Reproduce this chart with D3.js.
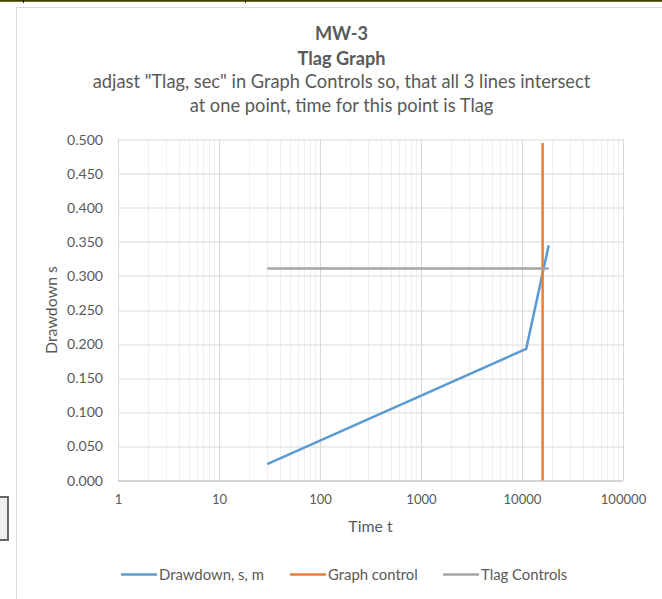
<!DOCTYPE html>
<html>
<head>
<meta charset="utf-8">
<script src="https://cdn.jsdelivr.net/npm/d3@7"></script>
<style>
  body { margin: 0; background: #fff; }
  text { font-family: Lato, "Open Sans", sans-serif; fill: #595959; }
</style>
</head>
<body>
<div id="chart"></div>
<script>
// series
var drawdownTime = [30, 11000, 18400];
var drawdownS = [0.024, 0.193, 0.345];
var controlTime = [16000, 16000];
var controlS = [0, 0.495];
var tlagTime = [30, 18400];
var tlagS = [0.311, 0.311];

var xTicks = [1, 10, 100, 1000, 10000, 100000];
var yTicks = [0, 0.05, 0.1, 0.15, 0.2, 0.25, 0.3, 0.35, 0.4, 0.45, 0.5];

var series = [
    {name: "Drawdown, s, m", x: drawdownTime, y: drawdownS, color: "#5B9BD5"},
    {name: "Graph control", x: controlTime, y: controlS, color: "#ED7D31"},
    {name: "Tlag Controls", x: tlagTime, y: tlagS, color: "#A5A5A5"}
];

var W = 662, H = 599;
var margin = {top: 139.5, right: 39, bottom: 118.5, left: 118};
var width = W - margin.left - margin.right,
    height = H - margin.top - margin.bottom;

var svg = d3.select("#chart").append("svg").attr("width", W).attr("height", H);

// size a text so that it is as wide as in the picture (Calibri is not installed)
function fitSize(str, target, weight) {
    var t = svg.append("text").style("font-size", "20px")
        .style("font-weight", weight || "normal").text(str);
    var w = t.node().getComputedTextLength();
    t.remove();
    return 20 * target / w;
}

// spreadsheet bits around the chart
svg.append("rect").attr("x", 0).attr("y", 0).attr("width", W).attr("height", 2).style("fill", "#76760f");
svg.append("rect").attr("x", 0).attr("y", 0).attr("width", W).attr("height", 1).style("fill", "#3d3d05");
svg.append("rect").attr("x", 23).attr("y", 0).attr("width", 1).attr("height", 3).style("fill", "#111");
svg.append("rect").attr("x", 245).attr("y", 0).attr("width", 1).attr("height", 3).style("fill", "#333");
svg.append("rect").attr("x", 16.5).attr("y", 7.5).attr("width", W).attr("height", H)
    .style("fill", "#fff").style("stroke", "#d9d9d9");
svg.append("rect").attr("x", -4).attr("y", 497).attr("width", 12).attr("height", 43)
    .style("fill", "#efefef").style("stroke", "#666").style("stroke-width", 2);

var x = d3.scaleLog().domain([1, 100000]).range([0, width]);
var y = d3.scaleLinear().domain([0, 0.5]).range([height, 0]);

var g = svg.append("g").attr("transform", "translate(" + margin.left + "," + margin.top + ")");

// minor vertical grid
var minor = [];
for (var d = 1; d < 100000; d *= 10) {
    for (var k = 2; k < 10; k++) minor.push(d * k);
}
g.selectAll(".minor").data(minor).enter().append("line")
    .attr("x1", function(v) { return Math.round(x(v)) + 0.5; })
    .attr("x2", function(v) { return Math.round(x(v)) + 0.5; })
    .attr("y1", 0).attr("y2", height)
    .style("stroke", "#efefef");

// horizontal grid
g.selectAll(".hgrid").data(yTicks).enter().append("line")
    .attr("x1", 0).attr("x2", width)
    .attr("y1", function(v) { return Math.round(y(v)) + 0.5; })
    .attr("y2", function(v) { return Math.round(y(v)) + 0.5; })
    .style("stroke", "#d9d9d9");

// major vertical grid
g.selectAll(".major").data(xTicks).enter().append("line")
    .attr("x1", function(v) { return Math.round(x(v)) + 0.5; })
    .attr("x2", function(v) { return Math.round(x(v)) + 0.5; })
    .attr("y1", 0).attr("y2", height)
    .style("stroke", "#d9d9d9");

// axes
var yFs = fitSize("0.500", 36), xFs = yFs * 0.93;
var xAxis = d3.axisBottom(x).tickValues(xTicks).tickSize(0).tickPadding(14)
    .tickFormat(d3.format("d"));
var yAxis = d3.axisLeft(y).tickValues(yTicks).tickSize(0).tickPadding(15)
    .tickFormat(d3.format(".3f"));

var gx = g.append("g").attr("transform", "translate(0," + height + ")").call(xAxis);
var gy = g.append("g").call(yAxis);
gx.selectAll("text").style("font-size", xFs + "px");
gy.selectAll("text").style("font-size", yFs + "px");
[gx, gy].forEach(function(a) {
    a.select(".domain").remove();
    a.selectAll("text").style("fill", "#595959")
        .style("font-family", "Lato, 'Open Sans', sans-serif");
});
g.append("line").attr("x1", 0).attr("x2", width).attr("y1", height + 0.5).attr("y2", height + 0.5)
    .style("stroke", "#bfbfbf");

// lines
var line = d3.line()
    .x(function(p) { return x(p[0]); })
    .y(function(p) { return y(p[1]); });

series.forEach(function(s) {
    var pts = s.x.map(function(t, i) { return [t, s.y[i]]; });
    g.append("path").datum(pts).attr("d", line)
        .style("fill", "none").style("stroke", s.color).style("stroke-width", 2.5)
        .style("stroke-linejoin", "round");
});

// titles
var cx = 341.5;
var titleFs = fitSize("Tlag Graph", 88, "bold");
var subFs = fitSize("adjast \"Tlag, sec\" in Graph Controls so, that all 3 lines intersect", 498);
svg.append("text").attr("x", cx).attr("y", 40).attr("text-anchor", "middle")
    .style("font-size", titleFs + "px").style("font-weight", "bold").text("MW-3");
svg.append("text").attr("x", cx).attr("y", 65).attr("text-anchor", "middle")
    .style("font-size", titleFs + "px").style("font-weight", "bold").text("Tlag Graph");
svg.append("text").attr("x", cx).attr("y", 87.5).attr("text-anchor", "middle")
    .style("font-size", subFs + "px").text("adjast \"Tlag, sec\" in Graph Controls so, that all 3 lines intersect");
svg.append("text").attr("x", cx).attr("y", 112).attr("text-anchor", "middle")
    .style("font-size", subFs + "px").text("at one point, time for this point is Tlag");

// axis titles
var axFs = fitSize("Drawdown s", 88);
svg.append("text").attr("x", margin.left + width / 2).attr("y", 532).attr("text-anchor", "middle")
    .style("font-size", axFs + "px").text("Time t");
svg.append("text").attr("transform", "translate(56.5," + (margin.top + height / 2) + ") rotate(-90)")
    .attr("text-anchor", "middle").style("font-size", axFs + "px").text("Drawdown s");

// legend
var legendX = [121, 290, 443];
var legFs = fitSize("Drawdown, s, m", 105);
var legend = svg.append("g");
series.forEach(function(s, i) {
    legend.append("line").attr("x1", legendX[i]).attr("x2", legendX[i] + 36)
        .attr("y1", 574.5).attr("y2", 574.5)
        .style("stroke", s.color).style("stroke-width", 2.5);
    legend.append("text").attr("x", legendX[i] + 38).attr("y", 579.5)
        .style("font-size", legFs + "px").text(s.name);
});
</script>
</body>
</html>
